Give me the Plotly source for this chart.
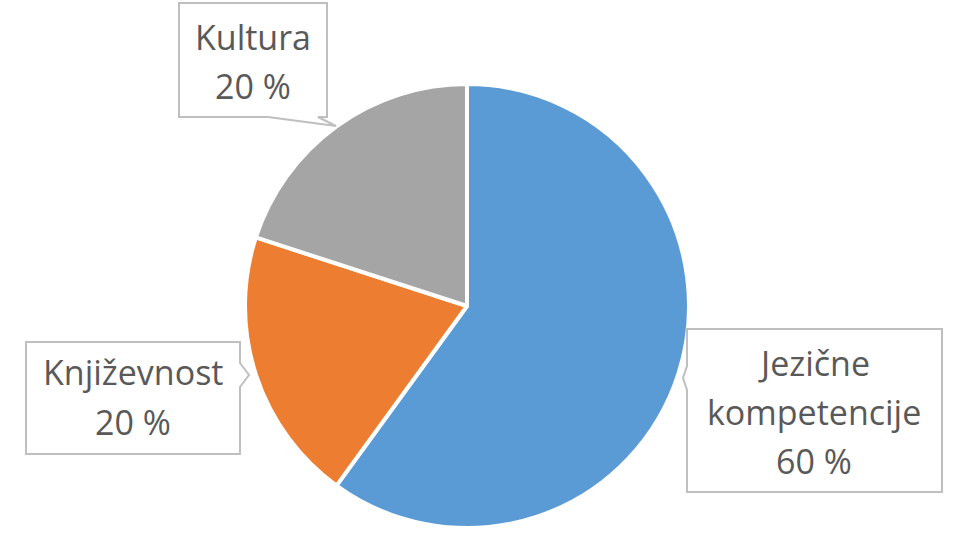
import plotly.graph_objects as go

labels = ["Jezične kompetencije", "Književnost", "Kultura"]
values = [60, 20, 20]
colors = ["#5B9BD5", "#ED7D31", "#A5A5A5"]
label_lines = [["Jezične", "kompetencije", "60 %"], ["Književnost", "20 %"], ["Kultura", "20 %"]]

W, H = 962, 543

def px(x):
    return x / W

def py(y):
    return 1 - y / H

fig = go.Figure(go.Pie(
    labels=labels, values=values, sort=False, direction="clockwise", rotation=0,
    marker=dict(colors=colors, line=dict(color="white", width=4)),
    textinfo="none", hoverinfo="label+percent", showlegend=False,
    domain=dict(x=[px(245), px(689)], y=[py(528), py(84)]),
))

# callout outlines (pixel geometry)
callouts = [
    [(687, 329), (942, 329), (942, 492), (687, 492), (687, 390), (683, 378), (687, 366)],
    [(26, 342), (240, 342), (240, 363), (249, 375), (240, 387), (240, 454), (26, 454)],
    [(179, 3), (327, 3), (327, 117), (318, 117), (336, 126), (268, 117), (179, 117)],
]
shapes = []
for pts in callouts:
    d = "M " + " L ".join(f"{px(x):.5f},{py(y):.5f}" for x, y in pts) + " Z"
    shapes.append(dict(type="path", xref="paper", yref="paper", path=d,
                       fillcolor="white", line=dict(color="#BFBFBF", width=2), layer="above"))

# (center x, first line y, line spacing)
placements = [(814, 363, 49), (133, 372, 50), (253, 37, 49)]
annotations = []
for (cx, y0, dy), lines in zip(placements, label_lines):
    for i, t in enumerate(lines):
        annotations.append(dict(x=px(cx), y=py(y0 + i * dy), xref="paper", yref="paper", text=t,
                                showarrow=False, xanchor="center", yanchor="middle",
                                font=dict(family="Open Sans", size=34, color="#595959")))

fig.update_layout(width=W, height=H, margin=dict(l=0, r=0, t=0, b=0),
                  paper_bgcolor="white", plot_bgcolor="white",
                  shapes=shapes, annotations=annotations)
fig.write_html("out.html", config={"displayModeBar": False},
               post_script="document.body.style.margin='0';")
